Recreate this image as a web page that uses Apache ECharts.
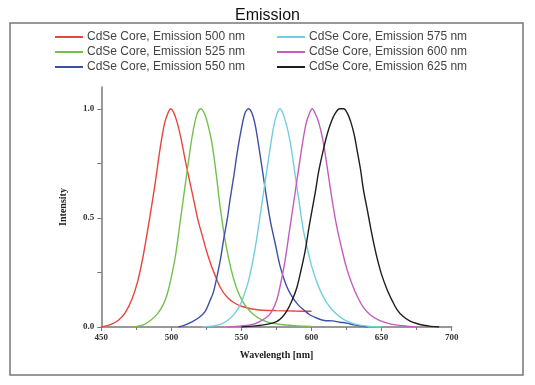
<!DOCTYPE html>
<html>
<head>
<meta charset="utf-8">
<script src="https://cdn.jsdelivr.net/npm/echarts@6/dist/echarts.min.js"></script>
<style>html,body{margin:0;padding:0;background:#fff;}#c{width:535px;height:385px;}</style>
</head>
<body>
<div id="c"></div>
<script>
const seriesNames = [
  'CdSe Core, Emission 500 nm',
  'CdSe Core, Emission 525 nm',
  'CdSe Core, Emission 550 nm',
  'CdSe Core, Emission 575 nm',
  'CdSe Core, Emission 600 nm',
  'CdSe Core, Emission 625 nm'
];
const colors = ['#e8453c', '#72c14f', '#3d4fa6', '#72cfe0', '#c45cbf', '#1e1e1e'];

const red_x = [450,456,462,467,472,476,480,484,488,492,495,497.5,499.5,501.5,504,507,510,513,516,519,522,525,528,531,535,540,545,550,556,563,575,588,600];
const red_y = [0,0.01,0.03,0.065,0.13,0.21,0.33,0.48,0.64,0.82,0.93,0.98,1.0,0.985,0.94,0.86,0.76,0.67,0.58,0.49,0.42,0.35,0.29,0.24,0.18,0.135,0.11,0.095,0.085,0.078,0.075,0.073,0.072];

const green_x = [473,480,485,490,494,497,500,503,506,509,512,515,518,521,523.5,526,529,532,535,538,541,544,547,551,555,559,564,570,580,590,600];
const green_y = [0,0.01,0.03,0.06,0.10,0.15,0.23,0.33,0.47,0.61,0.75,0.88,0.97,1.0,0.98,0.93,0.84,0.70,0.54,0.41,0.31,0.23,0.17,0.115,0.08,0.055,0.035,0.02,0.01,0.005,0.003];

const blue_x = [505,510,515,520,524,527.5,530,532.5,535,537,540,542,544.5,547,550,552.5,555,557.5,560,563.5,567,570.5,574,577.5,582,586,590,595,599,604,609,615,620,625,630,635,640];
const blue_y = [0,0.01,0.025,0.045,0.07,0.12,0.16,0.23,0.31,0.39,0.50,0.59,0.69,0.80,0.91,0.98,1.0,0.98,0.92,0.78,0.63,0.49,0.385,0.28,0.19,0.14,0.105,0.075,0.055,0.04,0.03,0.028,0.022,0.018,0.01,0.005,0];

const cyan_x = [522,530,535,540,545,549,552,555,558,561,564,567,570,573,575.5,577.5,579.5,582,585,588,591,594,597,600,603,606,610,614,618,622,626,632,640,650];
const cyan_y = [0,0.005,0.012,0.03,0.06,0.1,0.15,0.21,0.3,0.41,0.54,0.67,0.80,0.92,0.98,1.0,0.98,0.93,0.84,0.71,0.58,0.45,0.36,0.28,0.22,0.17,0.12,0.085,0.058,0.038,0.025,0.012,0.004,0];

const magenta_x = [540,550,558,563,567,571,575,578,581,584,587,590,593,596,598.5,600.5,602.5,605,608,611,614.5,618,621.5,625,629,633,637,642,648,654,660,668,675];
const magenta_y = [0,0.005,0.012,0.025,0.04,0.065,0.12,0.2,0.3,0.43,0.56,0.69,0.82,0.93,0.98,1.0,0.98,0.94,0.86,0.74,0.59,0.46,0.36,0.27,0.195,0.135,0.09,0.055,0.032,0.018,0.01,0.004,0];

const black_x = [550,560,568,575,579,582.5,586,589.5,592.5,595.5,598,600.5,603,605,608,611,614,617,620,623,625.5,628,630.5,632.5,635,637,640,642,644.5,647,650,654,658,661,665,670,675,680,685,691];
const black_y = [0,0.005,0.012,0.025,0.045,0.075,0.12,0.18,0.26,0.35,0.45,0.54,0.63,0.71,0.8,0.88,0.94,0.98,1.0,1.0,0.98,0.94,0.88,0.81,0.72,0.63,0.53,0.46,0.38,0.31,0.24,0.17,0.115,0.08,0.05,0.028,0.016,0.008,0.003,0];

const xTicks = [450, 500, 550, 600, 650, 700];
const yTicks = [0, 0.5, 1.0];

const xs = [red_x, green_x, blue_x, cyan_x, magenta_x, black_x];
const ys = [red_y, green_y, blue_y, cyan_y, magenta_y, black_y];

const chart = echarts.init(document.getElementById('c'), null, {renderer: 'canvas'});
const tickFont = {fontFamily: 'Liberation Serif', fontWeight: 'bold', fontSize: 9, color: '#333'};
const legendCommon = {
  orient: 'vertical', icon: 'rect', itemWidth: 28, itemHeight: 2, itemGap: 3, padding: 0,
  textStyle: {fontFamily: 'Liberation Sans', fontSize: 12, color: '#444', padding: [0,0,0,-1]}
};
chart.setOption({
  animation: false,
  backgroundColor: '#fff',
  title: {text: 'Emission', left: 'center', top: 3,
    textStyle: {fontFamily: 'Liberation Sans', fontSize: 16, fontWeight: 'normal', color: '#111'}},
  legend: [
    Object.assign({left: 55, top: 31, data: seriesNames.slice(0, 3)}, legendCommon),
    Object.assign({left: 277, top: 31, data: seriesNames.slice(3, 6)}, legendCommon)
  ],
  graphic: [{type: 'rect', shape: {x: 10, y: 23, width: 513, height: 352},
    style: {fill: 'none', stroke: '#777', lineWidth: 1.5}, silent: true}],
  grid: {left: 101.3, right: 83.3, top: 87, bottom: 58},
  xAxis: {
    type: 'value', min: 450, max: 700, interval: 50,
    name: 'Wavelength [nm]', nameLocation: 'middle', nameGap: 23,
    nameTextStyle: {fontFamily: 'Liberation Serif', fontWeight: 'bold', fontSize: 10, color: '#222'},
    axisLine: {lineStyle: {color: '#777', width: 1.5}},
    axisTick: {length: 4, lineStyle: {color: '#777', width: 1}, customValues: xTicks},
    minorTick: {show: true, splitNumber: 2, length: 3, lineStyle: {color: '#777'}},
    axisLabel: Object.assign({margin: 6, customValues: xTicks}, tickFont),
    splitLine: {show: false}
  },
  yAxis: {
    type: 'value', min: 0, max: 1.1,
    name: 'Intensity', nameLocation: 'middle', nameGap: 33, nameRotate: 90,
    nameTextStyle: {fontFamily: 'Liberation Serif', fontWeight: 'bold', fontSize: 10, color: '#222'},
    axisLine: {show: true, lineStyle: {color: '#777', width: 1.5}},
    axisTick: {show: true, length: 4, lineStyle: {color: '#777', width: 1}, customValues: [0, 0.25, 0.5, 0.75, 1.0]},
    axisLabel: Object.assign({margin: 7, customValues: yTicks, formatter: v => v.toFixed(1)}, tickFont),
    splitLine: {show: false}
  },
  series: seriesNames.map((n, i) => ({
    name: n, type: 'line', symbol: 'none', smooth: 0.3,
    lineStyle: {width: 1.4, color: colors[i]}, itemStyle: {color: colors[i]},
    data: xs[i].map((x, k) => [x, ys[i][k]])
  }))
});
</script>
</body>
</html>
